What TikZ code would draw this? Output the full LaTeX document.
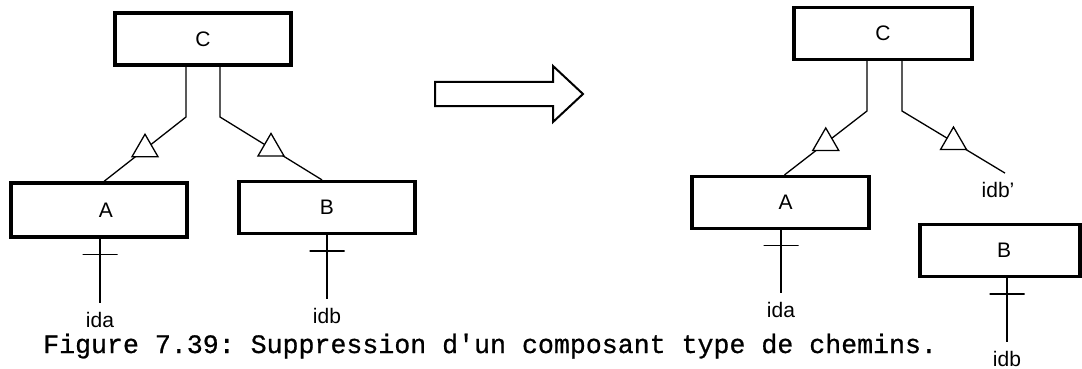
\documentclass[tikz,border=0pt]{standalone}
\usepackage{fontspec}
\setmainfont{Liberation Sans}
\newfontfamily\capfont[FakeBold=0.7]{Liberation Mono}
\usetikzlibrary{shapes.geometric}

\tikzset{
  ebox/.style={draw, line width=3.2pt, minimum width=176pt, minimum height=52pt,
    inner sep=0pt, font=\fontsize{21}{21}\selectfont},
  link/.style={line width=1.3pt},
  tri/.style={draw, fill=white, line width=1.3pt, regular polygon,
    regular polygon sides=3, minimum size=30pt, inner sep=0pt},
  bar/.style={draw, line width=1.3pt, minimum width=35pt, minimum height=0pt,
    inner sep=0pt},
  ident/.style={anchor=base, inner xsep=1pt, inner ysep=0.5pt,
    font=\fontsize{21}{21}\selectfont},
}

\begin{document}
\begin{tikzpicture}[x=1pt,y=-1pt]
\useasboundingbox (0,0) rectangle (1082,369);

% Before
\node[ebox] (C1) at (203,39) {C};
\node[ebox, minimum height=54pt] (A1) at (99,210) {\hspace*{14pt}A};
\node[ebox] (B1) at (327,207.5) {B};
\coordinate (k1) at (186,117);
\coordinate (k2) at (220,117);
\node[ident] (ida1) at (100,327) {ida};
\node[ident] (idb1) at (327,323) {idb};

\draw[link] (C1.south -| k1) -- (k1) -- node[tri]{} ([xshift=5pt]A1.north);
\draw[link] (C1.south -| k2) -- (k2) -- node[tri]{} ([xshift=-5pt]B1.north);
\draw[link] (A1.south -| ida1) -- node[bar, pos=.25]{} ([yshift=8pt]ida1.north);
\draw[link] (B1.south -| idb1) -- node[bar, pos=.25]{} ([yshift=8pt]idb1.north);

% Arrow
\draw[line width=2pt, line join=miter] (435,82) -- (553,82) -- (553,66) -- (583,94)
  -- (553,122) -- (553,106) -- (435,106) -- cycle;

% After
\node[ebox, minimum width=178pt] (C2) at (883,33.5) {C};
\node[ebox, minimum width=177pt] (A2) at (780.5,202.5) {\hspace*{10pt}A};
\node[ebox, minimum width=160pt] (B2) at (1000,250.5) {\hspace*{8pt}B};
\coordinate (k3) at (867,111);
\coordinate (k4) at (902,111);
\node[ident] (ida2) at (781,317) {ida};
\node[ident] (idbp) at (998,197) {idb'};
\node[ident] (idb2) at (1007,366) {idb};

\draw[link] (C2.south -| k3) -- (k3) -- node[tri]{} ([xshift=4pt]A2.north);
\draw[link] (C2.south -| k4) -- (k4) -- node[tri]{} ([xshift=7pt,yshift=8pt]idbp.north);
\draw[link] (A2.south -| ida2) -- node[bar, pos=.25]{} ([yshift=8pt]ida2.north);
\draw[link] (B2.south -| idb2) -- node[bar, pos=.25]{} ([yshift=8pt]idb2.north);

% Caption
\node[anchor=base west, inner sep=0pt,
  font=\capfont\fontsize{26.6}{26.6}\selectfont\frenchspacing]
  (cap) at (43,353) {Figure 7.39: Suppression d'un composant type de chemins.};

\end{tikzpicture}
\end{document}
